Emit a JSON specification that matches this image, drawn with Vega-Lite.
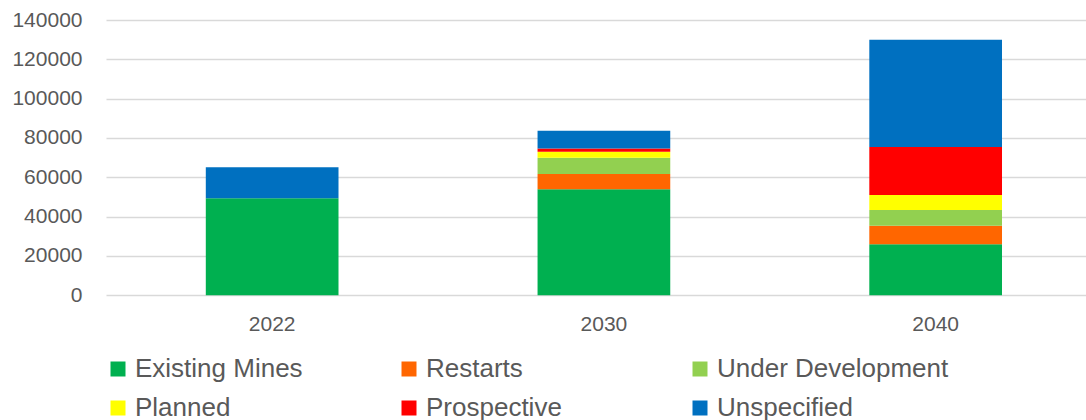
{
  "$schema": "https://vega.github.io/schema/vega-lite/v6.json",
  "autosize": {"type": "none"},
  "padding": {"left": 106, "top": 20, "right": 0, "bottom": 124.7},
  "width": 980,
  "height": 275.3,
  "background": "white",
  "config": {
    "font": "Liberation Sans",
    "view": {"stroke": null}
  },
  "data": {
    "values": [
      {"year": "2022", "series": "Existing Mines", "rank": 1, "value": 49300},
      {"year": "2022", "series": "Restarts", "rank": 2, "value": 0},
      {"year": "2022", "series": "Under Development", "rank": 3, "value": 0},
      {"year": "2022", "series": "Planned", "rank": 4, "value": 0},
      {"year": "2022", "series": "Prospective", "rank": 5, "value": 0},
      {"year": "2022", "series": "Unspecified", "rank": 6, "value": 15800},
      {"year": "2030", "series": "Existing Mines", "rank": 1, "value": 53900},
      {"year": "2030", "series": "Restarts", "rank": 2, "value": 7800},
      {"year": "2030", "series": "Under Development", "rank": 3, "value": 8300},
      {"year": "2030", "series": "Planned", "rank": 4, "value": 3000},
      {"year": "2030", "series": "Prospective", "rank": 5, "value": 1600},
      {"year": "2030", "series": "Unspecified", "rank": 6, "value": 9100},
      {"year": "2040", "series": "Existing Mines", "rank": 1, "value": 25900},
      {"year": "2040", "series": "Restarts", "rank": 2, "value": 9500},
      {"year": "2040", "series": "Under Development", "rank": 3, "value": 8000},
      {"year": "2040", "series": "Planned", "rank": 4, "value": 7600},
      {"year": "2040", "series": "Prospective", "rank": 5, "value": 24400},
      {"year": "2040", "series": "Unspecified", "rank": 6, "value": 54600}
    ]
  },
  "mark": {"type": "bar"},
  "encoding": {
    "x": {
      "field": "year",
      "type": "nominal",
      "scale": {"paddingInner": 0.6, "paddingOuter": 0.277, "align": 0.543, "round": false},
      "axis": {
        "title": null,
        "labelAngle": 0,
        "ticks": false,
        "domain": false,
        "labelPadding": 18,
        "labelFontSize": 21,
        "labelColor": "#595959",
        "grid": false
      }
    },
    "y": {
      "field": "value",
      "type": "quantitative",
      "stack": "zero",
      "scale": {"domain": [0, 140000], "nice": false},
      "axis": {
        "title": null,
        "values": [0, 20000, 40000, 60000, 80000, 100000, 120000, 140000],
        "format": "d",
        "ticks": false,
        "domain": false,
        "labelPadding": 24,
        "labelFontSize": 21,
        "labelColor": "#595959",
        "gridColor": "#D9D9D9",
        "gridWidth": 1.5
      }
    },
    "color": {
      "field": "series",
      "type": "nominal",
      "scale": {
        "domain": ["Existing Mines", "Restarts", "Under Development", "Planned", "Prospective", "Unspecified"],
        "range": ["#00B050", "#FF6600", "#92D050", "#FFFF00", "#FF0000", "#0070C0"]
      },
      "legend": {
        "title": null,
        "orient": "none",
        "legendX": -1,
        "legendY": 336,
        "direction": "horizontal",
        "columns": 3,
        "gridAlign": "all",
        "columnPadding": 29,
        "rowPadding": 13,
        "symbolType": "square",
        "symbolSize": 225,
        "symbolStrokeWidth": 0,
        "symbolOpacity": 1,
        "labelFontSize": 26,
        "labelColor": "#595959",
        "labelOffset": 4,
        "labelLimit": 400
      }
    },
    "order": {"field": "rank", "type": "quantitative", "sort": "ascending"}
  }
}
